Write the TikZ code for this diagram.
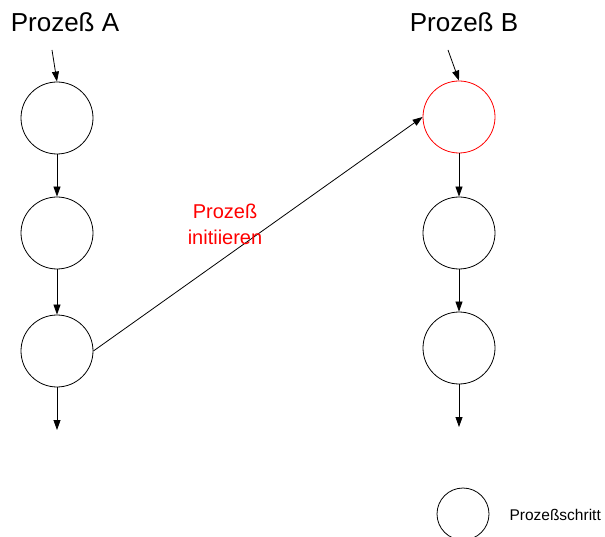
\documentclass[tikz,border=0pt]{standalone}
\usepackage{fontspec}
\setmainfont{Liberation Sans}
\usetikzlibrary{arrows.meta}
\begin{document}
\begin{tikzpicture}[x=1pt,y=-1pt,
  stepcircle/.style={circle,draw=black,line width=0.8pt,minimum size=72pt,inner sep=0pt},
  legendcircle/.style={circle,draw=black,line width=0.8pt,minimum size=52pt,inner sep=0pt},
  flow/.style={line width=0.8pt,-{Triangle[length=10pt,width=7pt]}},
  title/.style={anchor=base,font=\fontsize{26}{30}\selectfont},
  redlabel/.style={align=center,text=red,font=\fontsize{20}{26}\selectfont}]
\useasboundingbox (0,0) rectangle (605,537);

% headings
\node[title] (ta) at (65,32) {Prozeß A};
\node[title] (tb) at (464,32) {Prozeß B};

% process A
\node[stepcircle] (a1) at (57,118) {};
\node[stepcircle] (a2) at (57,233) {};
\node[stepcircle] (a3) at (57,351) {};
\coordinate (ain) at (52,50);
\coordinate (aout) at (57,430);

% process B
\node[stepcircle,draw=red] (b1) at (459,117) {};
\node[stepcircle] (b2) at (459,233) {};
\node[stepcircle] (b3) at (459,348) {};
\coordinate (bin) at (448,50);
\coordinate (bout) at (459,427);

% connectors
\draw[flow] (ain) -- (a1.north);
\draw[flow] (a1) -- (a2);
\draw[flow] (a2) -- (a3);
\draw[flow] (a3.south) -- (aout);
\draw[flow] (bin) -- (b1.north);
\draw[flow] (b1) -- (b2);
\draw[flow] (b2) -- (b3);
\draw[flow] (b3.south) -- (bout);
\draw[flow] (a3.east) -- (b1.west);

% trigger label
\node[redlabel] (init) at (225,224) {Prozeß\\initiieren};

% legend
\node[legendcircle] (leg) at (463,514) {};
\node[anchor=base west,font=\fontsize{15.5}{19}\selectfont] (legtext) at (506,520) {Prozeßschritt};
\end{tikzpicture}
\end{document}
